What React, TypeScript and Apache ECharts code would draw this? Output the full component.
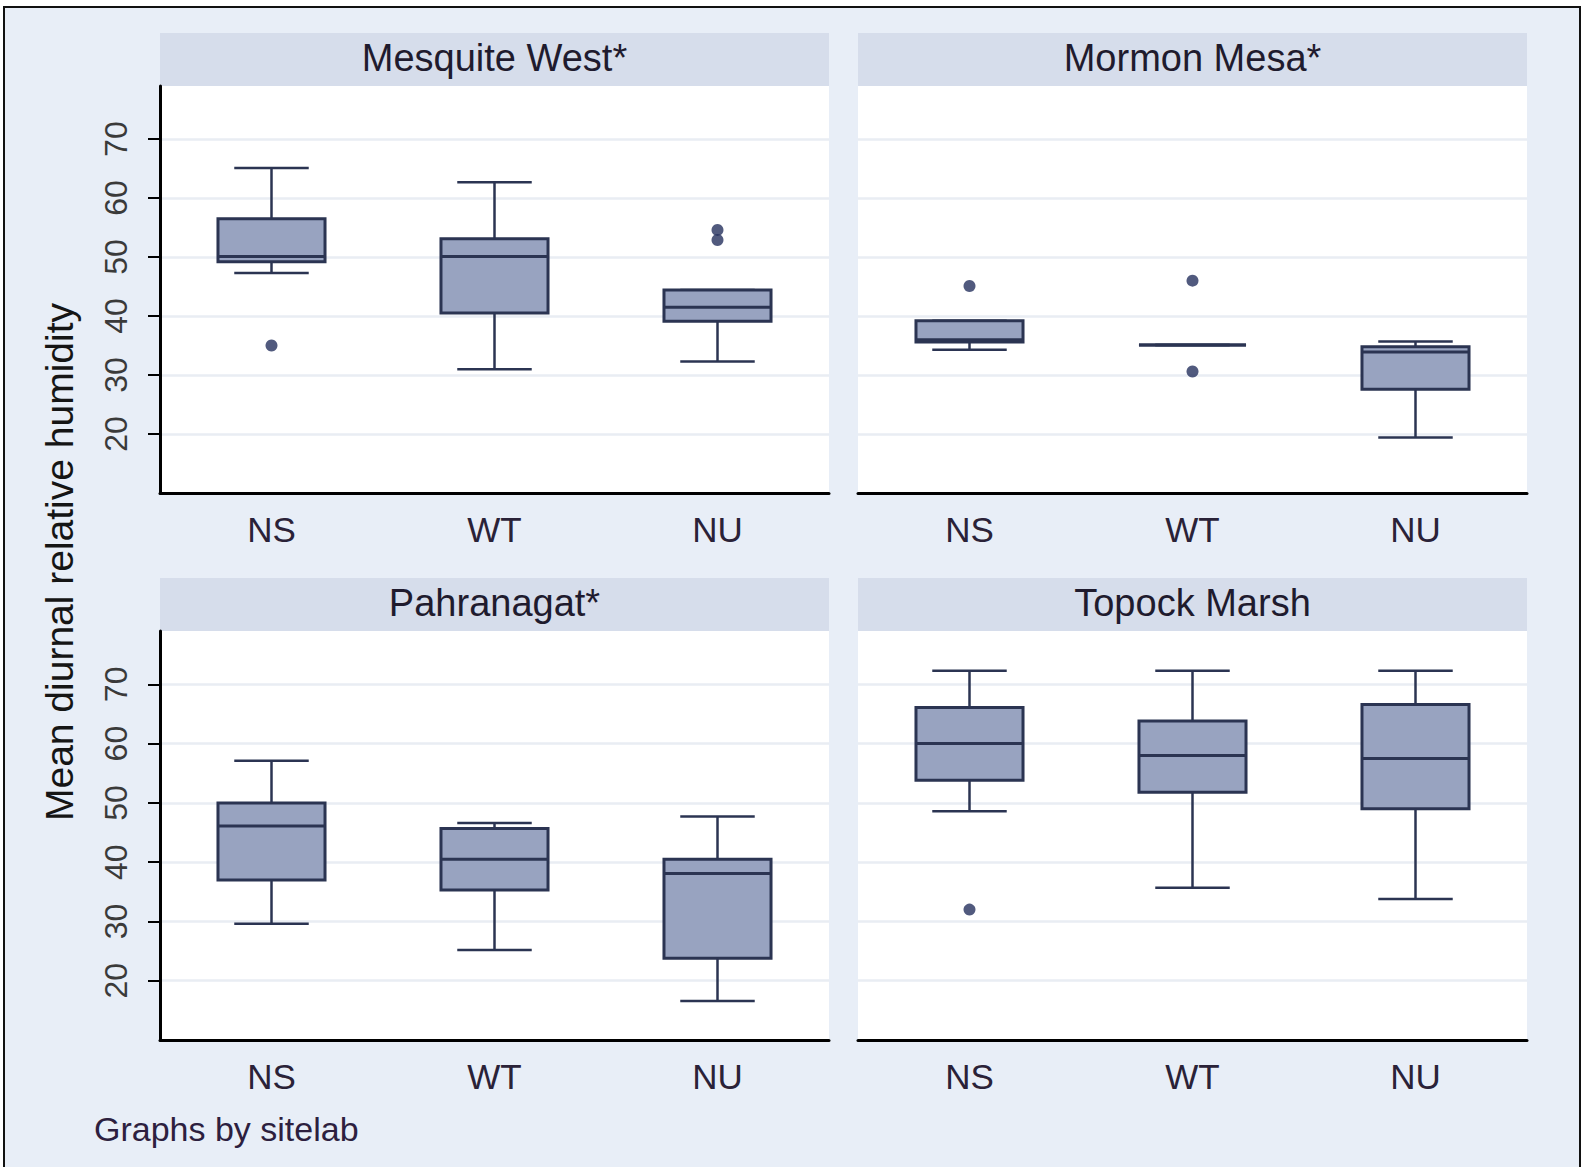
import React, { useEffect, useRef } from 'react';
import * as echarts from 'echarts';

// ---- data ----
const categories = ['NS', 'WT', 'NU'];
const panelTitles = ['Mesquite West*', 'Mormon Mesa*', 'Pahranagat*', 'Topock Marsh'];
const yTickValues = [20, 30, 40, 50, 60, 70];
const yAxisTitle = 'Mean diurnal relative humidity';
const footerNote = 'Graphs by sitelab';

// [lower whisker, Q1, median, Q3, upper whisker]
const mesquiteWestBoxes = [
  [47.3, 49.2, 50.1, 56.5, 65.1],
  [31.0, 40.5, 50.1, 53.1, 62.7],
  [32.3, 39.1, 41.5, 44.4, 44.4],
];
const mesquiteWestOutliers = [[0, 35.0], [2, 54.6], [2, 52.9]];

const mormonMesaBoxes = [
  [34.3, 35.6, 36.0, 39.2, 39.2],
  [35.1, 35.1, 35.1, 35.1, 35.1],
  [19.4, 27.6, 33.9, 34.8, 35.7],
];
const mormonMesaOutliers = [[0, 45.1], [1, 46.0], [1, 30.6]];

const pahranagatBoxes = [
  [29.6, 37.0, 46.1, 50.0, 57.1],
  [25.2, 35.3, 40.5, 45.7, 46.6],
  [16.6, 23.8, 38.1, 40.5, 47.7],
];
const pahranagatOutliers: number[][] = [];

const topockMarshBoxes = [
  [48.6, 53.8, 60.0, 66.1, 72.3],
  [35.7, 51.8, 58.0, 63.8, 72.3],
  [33.8, 49.0, 57.5, 66.6, 72.3],
];
const topockMarshOutliers = [[0, 32.0]];

const FONT = '"Liberation Sans", Arial, Helvetica, sans-serif';
const LINE = '#2B3452';
const FILL = '#98A3C0';
const DOT = '#26315E';
const STRIP = '#D6DDEB';

export default function App() {
  const ref = useRef<HTMLDivElement>(null);

  useEffect(() => {
    document.body.style.margin = '0';
    const chart = echarts.init(ref.current as HTMLDivElement, null, { renderer: 'svg' });

    const panelW = 669;
    const panels = [
      { title: panelTitles[0], boxes: mesquiteWestBoxes, outliers: mesquiteWestOutliers, left: 160, top: 86, height: 407, showY: true },
      { title: panelTitles[1], boxes: mormonMesaBoxes, outliers: mormonMesaOutliers, left: 858, top: 86, height: 407, showY: false },
      { title: panelTitles[2], boxes: pahranagatBoxes, outliers: pahranagatOutliers, left: 160, top: 631, height: 409, showY: true },
      { title: panelTitles[3], boxes: topockMarshBoxes, outliers: topockMarshOutliers, left: 858, top: 631, height: 409, showY: false },
    ];

    const renderBox = (params: any, api: any) => {
      const xi = api.value(0);
      const band = api.size([1, 0])[0];
      const hw = band * 0.24;
      const cw = band * 0.167;
      const pMin = api.coord([xi, api.value(1)]);
      const pQ1 = api.coord([xi, api.value(2)]);
      const pMed = api.coord([xi, api.value(3)]);
      const pQ3 = api.coord([xi, api.value(4)]);
      const pMax = api.coord([xi, api.value(5)]);
      const cx = pMed[0];
      const ls = { stroke: LINE, lineWidth: 2.5 };
      return {
        type: 'group',
        children: [
          { type: 'line', shape: { x1: cx, y1: pMax[1], x2: cx, y2: pQ3[1] }, style: ls },
          { type: 'line', shape: { x1: cx, y1: pQ1[1], x2: cx, y2: pMin[1] }, style: ls },
          { type: 'line', shape: { x1: cx - cw, y1: pMax[1], x2: cx + cw, y2: pMax[1] }, style: ls },
          { type: 'line', shape: { x1: cx - cw, y1: pMin[1], x2: cx + cw, y2: pMin[1] }, style: ls },
          {
            type: 'rect',
            shape: { x: cx - hw, y: pQ3[1], width: 2 * hw, height: pQ1[1] - pQ3[1] },
            style: { fill: FILL, stroke: LINE, lineWidth: 3 },
          },
          { type: 'line', shape: { x1: cx - hw, y1: pMed[1], x2: cx + hw, y2: pMed[1] }, style: { stroke: LINE, lineWidth: 3 } },
        ],
      };
    };

    const series: any[] = [];
    panels.forEach((p, i) => {
      series.push({
        type: 'custom',
        xAxisIndex: i,
        yAxisIndex: i,
        renderItem: renderBox,
        encode: { x: 0, y: [1, 2, 3, 4, 5] },
        data: p.boxes.map((b, j) => [j, ...b]),
        z: 3,
      });
      series.push({
        type: 'scatter',
        xAxisIndex: i,
        yAxisIndex: i,
        symbol: 'circle',
        symbolSize: 12,
        itemStyle: { color: DOT },
        data: p.outliers,
        z: 4,
      });
    });

    const graphics: any[] = [];
    panels.forEach((p) => {
      graphics.push({
        type: 'rect',
        shape: { x: p.left, y: p.top - 53, width: panelW, height: 53 },
        style: { fill: STRIP },
        silent: true,
      });
      graphics.push({
        type: 'text',
        x: p.left + panelW / 2,
        y: p.top - 28,
        style: { text: p.title, font: `38px ${FONT}`, fill: '#1F1B2E', align: 'center', verticalAlign: 'middle' },
      });
    });
    graphics.push({
      type: 'text',
      x: 59,
      y: 562,
      rotation: Math.PI / 2,
      style: { text: yAxisTitle, font: `39px ${FONT}`, fill: '#151515', align: 'center', verticalAlign: 'middle' },
    });
    graphics.push({
      type: 'text',
      x: 94,
      y: 1129,
      style: { text: footerNote, font: `34px ${FONT}`, fill: '#2D1F3F', align: 'left', verticalAlign: 'middle' },
    });

    const option: any = {
      animation: false,
      grid: panels.map((p) => ({
        left: p.left,
        top: p.top,
        width: panelW,
        height: p.height,
        show: true,
        backgroundColor: '#ffffff',
        borderWidth: 0,
      })),
      xAxis: panels.map((p, i) => ({
        type: 'category',
        gridIndex: i,
        data: categories,
        boundaryGap: true,
        axisLine: { show: true, onZero: false, lineStyle: { color: '#000', width: 3 } },
        axisTick: { show: false },
        axisLabel: { fontSize: 35, fontFamily: FONT, color: '#2A2238', margin: 19 },
        splitLine: { show: false },
      })),
      yAxis: panels.map((p, i) => ({
        type: 'value',
        gridIndex: i,
        min: 10,
        max: 79,
        axisLine: { show: p.showY, lineStyle: { color: '#000', width: 3 } },
        axisTick: {
          show: p.showY,
          length: 12,
          lineStyle: { color: '#000', width: 2 },
          customValues: yTickValues,
        },
        axisLabel: {
          show: p.showY,
          rotate: 90,
          fontSize: 32,
          fontFamily: FONT,
          color: '#3A3A3A',
          margin: 28,
          customValues: yTickValues,
        },
        splitLine: { show: true, lineStyle: { color: '#E9EDF3', width: 2.5 } },
      })),
      series,
      graphic: graphics,
    };

    chart.setOption(option);
    return () => chart.dispose();
  }, []);

  return (
    <div style={{ position: 'absolute', left: 0, top: 0, width: 1585, height: 1167, background: '#fff', overflow: 'hidden' }}>
      <div
        style={{
          position: 'absolute',
          left: 3,
          top: 6,
          width: 1574,
          height: 1200,
          border: '2px solid #111',
          background: '#E8EEF7',
        }}
      />
      <div ref={ref} style={{ position: 'absolute', left: 0, top: 0, width: 1585, height: 1167 }} />
    </div>
  );
}
